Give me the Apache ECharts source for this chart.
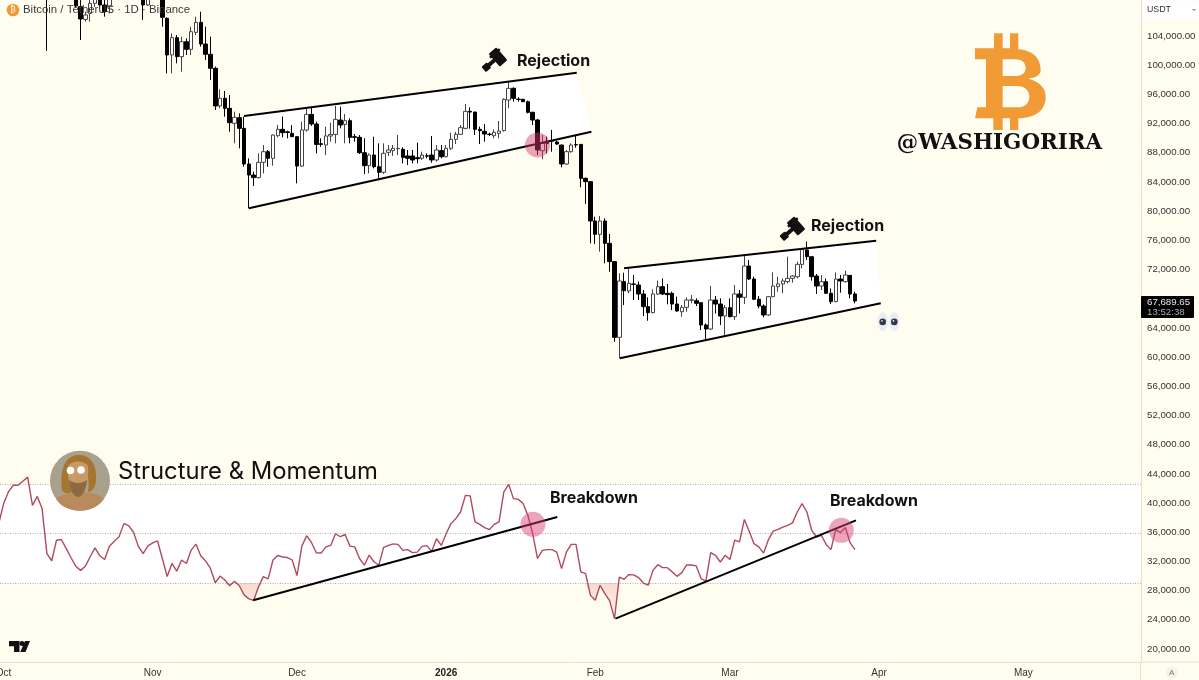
<!DOCTYPE html>
<html><head><meta charset="utf-8">
<style>html,body{margin:0;padding:0;background:#FFFDF0}#c{width:1199px;height:680px}</style>
<script src="https://cdn.jsdelivr.net/npm/echarts@6/dist/echarts.min.js"></script>
</head><body><div id="c"></div>
<script>
// Day number 0 = 30 Sep 2025, one value per day
const opens=[113000,114050,118600,120500,122200,122400,125000,124600,121400,123300,
121700,113000,110800,115200,113000,110700,110000,108020,106280,107100,
108480,110500,108250,108020,109500,111600,111500,114500,114100,113000,
110000,108250,109800,110000,110500,106420,101400,103770,101170,103220,
102170,104500,105870,102900,101490,99570,94410,95460,94090,92030,
92810,91350,86460,84950,84590,86690,88150,87240,90340,91210,
90870,90660,90200,86180,91120,93260,91940,89240,89060,90300,
90520,92490,91890,92400,90200,90110,88010,86230,87690,86090,
85320,88060,88290,88560,88470,87560,87560,87330,87240,87590,
87690,87010,88290,87460,88610,89840,90530,91350,93680,93580,
91210,90940,90550,90340,90660,91030,95230,96830,95350,95320,
95000,93540,92490,88290,89610,89640,89470,89060,86460,88150,
89120,89150,84500,84040,78650,76820,78650,75590,73080,62710,
70340,69050,70020,69880,68650,66910,66090,68650,69650,68740,
68740,67270,66220,66820,67800,67730,67460,64400,63850,67820,
67270,65630,66770,65540,68650,68190,72480,70700,67920,67000,
65770,68280,69650,70020,70340,70790,71020,72710,74680,73760,
71110,69740,70340,68740,67600,70700,70340,71200,68650];
const highs=[114800,118600,121000,123900,122900,125700,126100,125100,124200,123700,
122500,113400,115900,115900,113600,113600,111000,109200,107330,109300,
111700,111200,109000,110800,111900,111900,115400,116400,116000,113600,
111500,110000,111000,110700,111000,106560,104370,104140,103910,103680,
105280,106650,107330,105280,103910,99800,96690,96460,95910,93630,
93400,92950,87240,85410,87920,89060,88380,90500,91800,92950,
91030,91800,90300,92260,94090,94320,92260,89980,91570,92120,
94410,94320,93310,92720,90570,90430,89980,87920,90200,89290,
89290,89060,89060,90430,88740,88380,88380,89380,88150,87920,
90300,89060,89060,89060,90750,90850,91800,94680,94230,93630,
91580,91940,90750,91210,92350,95460,97740,96970,95600,95400,
95140,93630,92630,90430,90210,91120,89660,89100,88380,89290,
90300,89200,84600,84080,79240,79330,79010,76870,73150,71480,
71570,72160,71250,70340,69190,68190,69290,70470,70790,70020,
68970,68280,67140,68190,68510,68050,67500,64620,69740,68370,
68050,67140,68050,69880,69190,73990,73300,71020,68370,67230,
68370,71610,71020,70790,73760,71250,73080,74900,75820,73760,
71390,71250,70790,69420,71610,71250,71840,71250,68970];
const lows=[112700,113900,118400,119300,121600,122200,123100,120600,121000,119100,
101944,109500,110000,110300,110200,109300,107900,103450,105960,105960,
108000,107900,106650,107100,109200,110900,111300,113800,112100,109800,
106190,108110,109400,109500,105280,98880,98880,100250,99110,101400,
101400,104140,102540,100710,97970,93860,94090,92950,90890,89290,
88610,86090,80380,83440,84490,85180,86090,86230,90110,90110,
89980,90150,83810,86090,90890,91670,87920,88830,87690,89520,
89290,91350,89290,89290,89520,87830,85090,85180,85860,84490,
85090,87560,87560,87690,86550,86320,86550,86550,87010,87240,
86640,86780,87240,87370,88380,89200,90430,91210,91300,90430,
89200,89520,90300,89980,89980,90890,94090,95000,95000,94950,
93400,91800,87690,87100,87920,88150,89110,86000,86320,88010,
88700,83260,80980,75590,75500,74450,72850,71710,62110,59830,
67140,68740,67820,67820,65630,64990,66000,68510,68510,67230,
66450,66220,65540,66220,67370,67000,63710,62340,63710,65990,
64400,62890,65450,65080,65990,67270,70560,67820,66680,65450,
65630,68190,68970,68740,70110,70200,70790,72160,73300,70470,
68650,69190,68650,67270,67500,68830,70200,68050,67370];
const closes=[114050,118600,120500,122200,122400,125000,124600,121400,123300,121700,
113000,110800,115200,113000,110700,110000,108110,106330,106880,108480,
110500,108250,107330,109500,111600,111500,114500,114100,113000,110000,
108250,109800,110000,110500,106560,101400,103770,101170,103220,102170,
104590,105870,102900,101490,99570,94410,95460,94090,92120,92850,
91350,86460,84950,84590,86690,88150,87240,90430,91210,90750,
90780,90200,86180,91120,93260,91940,89150,89150,90300,90520,
92580,91800,92400,90110,90110,88010,86230,87690,86090,85320,
87920,88380,88610,88600,87370,87240,87010,87190,87690,87540,
87010,88380,87460,88610,89840,90530,91440,93680,93580,91210,
91030,90570,90500,90800,90980,95320,96830,95460,95300,95000,
93540,92490,88380,89290,89290,89600,89200,86460,88150,89060,
89090,84500,84040,78650,76820,78650,75590,73080,62710,70430,
69100,70110,69970,68650,66910,66090,68650,69650,68650,68560,
67270,66320,66820,67820,67850,67370,64400,63850,67820,67270,
65630,66770,65540,68650,68190,72480,70700,67920,67000,65770,
68280,69740,70020,70430,70790,71110,72710,74770,73760,71020,
69740,70340,68740,67600,70700,70430,71250,68650,67689.65];
const rsi=[54.0,62.1,66.8,69.5,69.5,71.1,72.8,61.4,65.0,60.1,
41.9,39.0,47.3,47.6,44.0,40.3,36.8,35.1,36.8,40.6,
44.2,41.0,39.5,44.9,46.9,48.7,54.0,53.2,50.5,44.9,
41.9,45.0,46.2,47.0,39.9,32.6,37.9,34.8,39.3,37.9,
43.3,45.7,40.9,38.9,35.9,30.1,32.8,31.2,28.9,30.7,
28.9,25.2,23.6,23.0,28.5,32.6,31.7,39.3,41.1,40.5,
40.3,39.3,33.0,44.9,49.1,46.4,42.2,42.1,44.6,45.2,
49.9,48.7,49.6,44.9,44.6,39.9,37.2,41.3,38.6,37.2,
44.4,45.2,45.8,45.6,43.2,43.5,42.3,42.5,44.8,45.1,
42.8,47.9,45.2,49.9,54.0,56.0,58.7,65.4,65.2,54.7,
53.7,52.4,51.6,53.7,54.7,66.8,69.9,64.1,63.8,62.1,
57.3,49.9,39.9,43.2,43.5,43.5,42.5,35.8,42.5,45.6,
45.6,34.5,33.8,25.0,23.0,29.1,25.7,22.8,15.6,32.4,
31.5,33.4,33.3,32.2,30.0,29.1,35.1,37.4,36.2,36.2,
34.5,32.7,34.2,37.3,37.3,36.9,31.8,30.8,42.3,41.2,
38.5,41.2,39.5,47.3,46.6,55.7,50.9,45.9,44.6,42.1,
47.5,51.0,51.7,52.6,53.3,54.3,58.7,62.1,58.7,51.3,
48.6,49.3,45.6,43.5,51.6,50.4,52.4,46.2,43.5];
const monthDays=[1,32,62,93,124,152,183,213];
const monthLabels=['Oct','Nov','Dec','2026','Feb','Mar','Apr','May'];
const priceTicks=[20000,24000,28000,32000,36000,40000,44000,48000,52000,56000,60000,64000,72000,76000,80000,84000,88000,92000,96000,100000,104000];
const rsiLevels=[70,50,30];
// channel corners and trend lines: [day, value]
const channelA=[[50.98,93040],[120.15,98970],[123.2,90890],[52.0,80390]];
const channelB=[[129.98,72170],[182.4,75950],[183.35,67370],[129.1,59840]];
const rsiTrendA=[[52.9,23.0],[116.1,56.7]];
const rsiTrendB=[[128.2,15.6],[178.2,55.3]];
const priceSpot=[[112.0,89060]];
const rsiSpots=[[111.05,53.7],[175.15,51.3]];

const days=opens.map((_,i)=>i);
const candleData=days.map(i=>[i,opens[i],closes[i],lows[i],highs[i]]);
const rsiData=days.map(i=>[i,rsi[i]]);
const oversold=days.map(i=>[i,Math.min(rsi[i],30)]);
const INK='#000';
const shapeOf=(name,d)=>{echarts.graphic.registerShape(name,echarts.graphic.extendPath(d,{}));return name;};
const chart=echarts.init(document.getElementById('c'),null,{renderer:'canvas'});
const wedge=(pts,name)=>({type:'custom',name,xAxisIndex:0,yAxisIndex:0,z:1,silent:true,clip:true,
  data:pts,encode:{x:0,y:1},
  renderItem:(p,api)=>p.dataIndex===0?{type:'polygon',shape:{points:pts.map(q=>api.coord(q))},style:{fill:'#fff'}}:{type:'group',children:[]}});
const seg=(pts,y)=>({type:'line',xAxisIndex:0,yAxisIndex:y,z:6,silent:true,symbol:'none',data:pts,lineStyle:{color:INK,width:2},animation:false});
const hammer=(x,y)=>({type:'group',x,y,rotation:0.72,children:[
  {type:'rect',z:50,shape:{x:-5,y:-8.5,width:10,height:17,r:1},style:{fill:'#111'}},
  {type:'rect',z:50,shape:{x:-6.5,y:-6,width:13,height:2.5},style:{fill:'#111'}},
  {type:'rect',z:50,shape:{x:-18,y:-2,width:14,height:4},style:{fill:'#111'}},
  {type:'rect',z:50,shape:{x:-19,y:-3.5,width:7,height:7,r:1},style:{fill:'#111'}}]});
const label=(text,x,y,size,weight,fill,font)=>({type:'text',x,y,z:60,style:{text,fontSize:size,fontWeight:weight,fill,fontFamily:font||'Inter',verticalAlign:'middle'}});
const eye=(cx)=>({type:'group',children:[
  {type:'ellipse',z:50,shape:{cx,cy:321.7,rx:5.2,ry:9.4},style:{fill:'#e9edf2',stroke:'#f4f5f5',lineWidth:.5}},
  {type:'circle',z:51,shape:{cx,cy:321.9,r:3.3},style:{fill:'#2e3a4a'}},
  {type:'circle',z:52,shape:{cx:cx-.8,cy:320.9,r:.8},style:{fill:'#fff'}}]});
const btcPath='M342,40H368V85H390V40H415V88C465,92 482,120 482,150C482,165 470,172 445,176C480,185 497,205 497,230C497,270 470,292 415,295V330H390V295H368V330H340V295H285L292,262H318V118H285V85H342Z M368,118V168H405C430,168 437,155 437,143C437,128 425,118 405,118Z M368,198V262H410C440,262 448,245 448,230C448,212 435,198 410,198Z';
const btcShape=shapeOf('btcMark',btcPath);
const tvShape=shapeOf('tvMark','M9,641H19.5V652H14V646.3H9Z M25,641H30L25.5,652H20.2Z');
const bodyShape=shapeOf('avBody','M56,499C62,494 70,492 80,492C92,492 100,495 104,499C98,507 90,510.7 80,510.7C70,510.7 61,507 56,499Z');
const hairShape=shapeOf('avHair','M62,490C60,470 64,456 78,455C92,454 97,468 96,478C97,486 92,492 88,492C90,480 88,468 78,465C70,468 70,482 72,492C68,494 64,494 62,490Z');
const faceShape=shapeOf('avFace','M68,466C72,460 84,460 88,466C89,480 86,494 78,496C71,494 67,480 68,466Z');
const beardShape=shapeOf('avBeard','M69,480C74,484 82,484 87,480C86,490 83,496 78,497C73,496 70,490 69,480Z');
const option={
  animation:false,backgroundColor:'#FFFDF0',
  grid:{left:0,right:58,top:0,bottom:18,containLabel:false,outerBoundsMode:'none'},
  xAxis:{type:'value',min:0.25,max:237.46,splitLine:{show:false},
    axisLine:{onZero:false,lineStyle:{color:'#e6e3cc'}},axisTick:{show:false},
    axisLabel:{customValues:monthDays,margin:6,fontSize:10,color:'#333',fontFamily:'Liberation Sans',
      formatter:v=>{const s=monthLabels[monthDays.indexOf(v)]||'';return s==='2026'?'{b|2026}':s;},
      rich:{b:{fontWeight:'bold',fontSize:10,color:'#222',fontFamily:'Liberation Sans'}}}},
  yAxis:[{type:'value',position:'right',min:18219,max:108934,splitLine:{show:false},
      axisLine:{show:true,onZero:false,lineStyle:{color:'#e6e3cc'}},axisTick:{show:false},
      axisLabel:{customValues:priceTicks,margin:6,fontSize:9.7,color:'#333',fontFamily:'Liberation Sans',
        formatter:v=>v.toLocaleString('en-US',{minimumFractionDigits:2,maximumFractionDigits:2})}},
    {type:'value',position:'right',min:-1.92,max:265.6,show:false,splitLine:{show:false}}],
  series:[
    wedge(channelA,'Channel A'),wedge(channelB,'Channel B'),
    {type:'line',name:'RSI band',xAxisIndex:0,yAxisIndex:1,z:1,silent:true,symbol:'none',data:[],
      markArea:{silent:true,itemStyle:{color:'#fff'},data:[[{yAxis:rsiLevels[0]},{yAxis:rsiLevels[2]}]]},
      markLine:{silent:true,symbol:'none',label:{show:false},lineStyle:{color:'#b4b2a6',type:[1,1.5],width:1},data:rsiLevels.map(v=>({yAxis:v}))}},
    {type:'line',name:'Oversold',xAxisIndex:0,yAxisIndex:1,z:2,silent:true,symbol:'none',data:oversold,lineStyle:{width:0},
      areaStyle:{origin:30,color:new echarts.graphic.LinearGradient(0,0,0,1,[{offset:0,color:'rgba(236,120,110,.38)'},{offset:1,color:'rgba(236,120,110,.06)'}])}},
    {type:'candlestick',name:'BTCUSDT',xAxisIndex:0,yAxisIndex:0,z:4,barWidth:4,data:candleData,encode:{x:0,y:[1,2,3,4]},
      itemStyle:{color:'#fff',color0:'#000',borderColor:'#444',borderColor0:'#000',borderWidth:1}},
    {type:'line',name:'RSI',xAxisIndex:0,yAxisIndex:1,z:5,silent:true,symbol:'none',data:rsiData,lineStyle:{color:'#b04a5e',width:1.4}},
    seg(channelA.slice(0,2),0),seg([channelA[3],channelA[2]],0),
    seg(channelB.slice(0,2),0),seg([channelB[3],channelB[2]],0),
    seg(rsiTrendA,1),seg(rsiTrendB,1),
    {type:'scatter',name:'Price spot',xAxisIndex:0,yAxisIndex:0,z:7,symbolSize:25,silent:true,data:priceSpot,itemStyle:{color:'rgba(214,60,110,.58)'}},
    {type:'scatter',name:'RSI spots',xAxisIndex:0,yAxisIndex:1,z:7,symbolSize:25,silent:true,data:rsiSpots,itemStyle:{color:'rgba(214,60,110,.58)'}}
  ],
  graphic:{elements:[
    {type:'circle',shape:{cx:13,cy:10,r:6.3},z:50,style:{fill:'#EE9A3A'}},
    {type:'text',x:13,y:10,z:51,style:{text:'\u20BF',fontSize:8,fill:'#fff',align:'center',verticalAlign:'middle',fontFamily:'DejaVu Sans'}},
    label('Bitcoin / TetherUS \u00B7 1D \u00B7 Binance',23,10,11.4,400,'#3a3a3a','Liberation Sans'),
    {type:btcShape,x:880,y:20,scaleX:1/3,scaleY:1/3,z:40,style:{fill:'#F19B36'}},
    {type:'text',x:999.5,y:143,z:40,style:{text:'@WASHIGORIRA',fontSize:21.4,fontWeight:'bold',fill:'#111',align:'center',verticalAlign:'middle',fontFamily:'DejaVu Serif'}},
    hammer(498,57),hammer(796,226),
    label('Rejection',517,61,16,700,'#111'),label('Rejection',811,226,16,700,'#111'),
    label('Breakdown',550,498,16,700,'#111'),label('Breakdown',830,501,16,700,'#111'),
    label('Structure & Momentum',118,472,23.8,400,'#111'),
    eye(882.7),eye(894.3),
    {type:'group',children:[
      {type:'circle',z:50,shape:{cx:80,cy:480.7,r:30},style:{fill:'#a9a18d'}},
      {type:bodyShape,z:51,style:{fill:'#b98a5c'}},
      {type:hairShape,z:52,style:{fill:'#a5762f'}},
      {type:faceShape,z:53,style:{fill:'#c99a66'}},
      {type:beardShape,z:54,style:{fill:'#8b6a3d'}},
      {type:'circle',z:55,shape:{cx:70.5,cy:470.5,r:3.8},style:{fill:'#fff'}},
      {type:'circle',z:55,shape:{cx:81,cy:470,r:3.8},style:{fill:'#fff'}}]},
    {type:tvShape,z:50,style:{fill:'#111'}},
    {type:'circle',z:50,shape:{cx:22,cy:643.6,r:2.5},style:{fill:'#111'}},
    {type:'rect',z:60,shape:{x:1141,y:296,width:53,height:22,r:1},style:{fill:'#000'}},
    label('67,689.65',1147,302,9.7,400,'#e6e6e6','Liberation Sans'),
    label('13:52:38',1147,312,9.7,400,'#a8a8a8','Liberation Sans'),
    {type:'rect',z:60,shape:{x:1143,y:1,width:56,height:18,r:3},style:{fill:'#fff'}},
    label('USDT',1147,10,8.8,400,'#333','Liberation Sans'),
    {type:'polyline',z:61,shape:{points:[[1192.5,9],[1194,10.5],[1195.5,9]]},style:{stroke:'#555',lineWidth:1,fill:null}},
    {type:'line',z:30,shape:{x1:1141,y1:662,x2:1199,y2:662},style:{stroke:'#e6e3cc',lineWidth:1}},
    {type:'line',z:30,shape:{x1:1140.5,y1:662,x2:1140.5,y2:680},style:{stroke:'#e6e3cc',lineWidth:1}},
    {type:'circle',z:60,shape:{cx:1171.7,cy:672.5,r:6},style:{fill:'#f4f2e8'}},
    {type:'text',x:1171.7,y:672.5,z:61,style:{text:'A',fontSize:8,fill:'#777',align:'center',verticalAlign:'middle',fontFamily:'Liberation Sans'}}
  ]}
};
chart.setOption(option);
</script></body></html>
